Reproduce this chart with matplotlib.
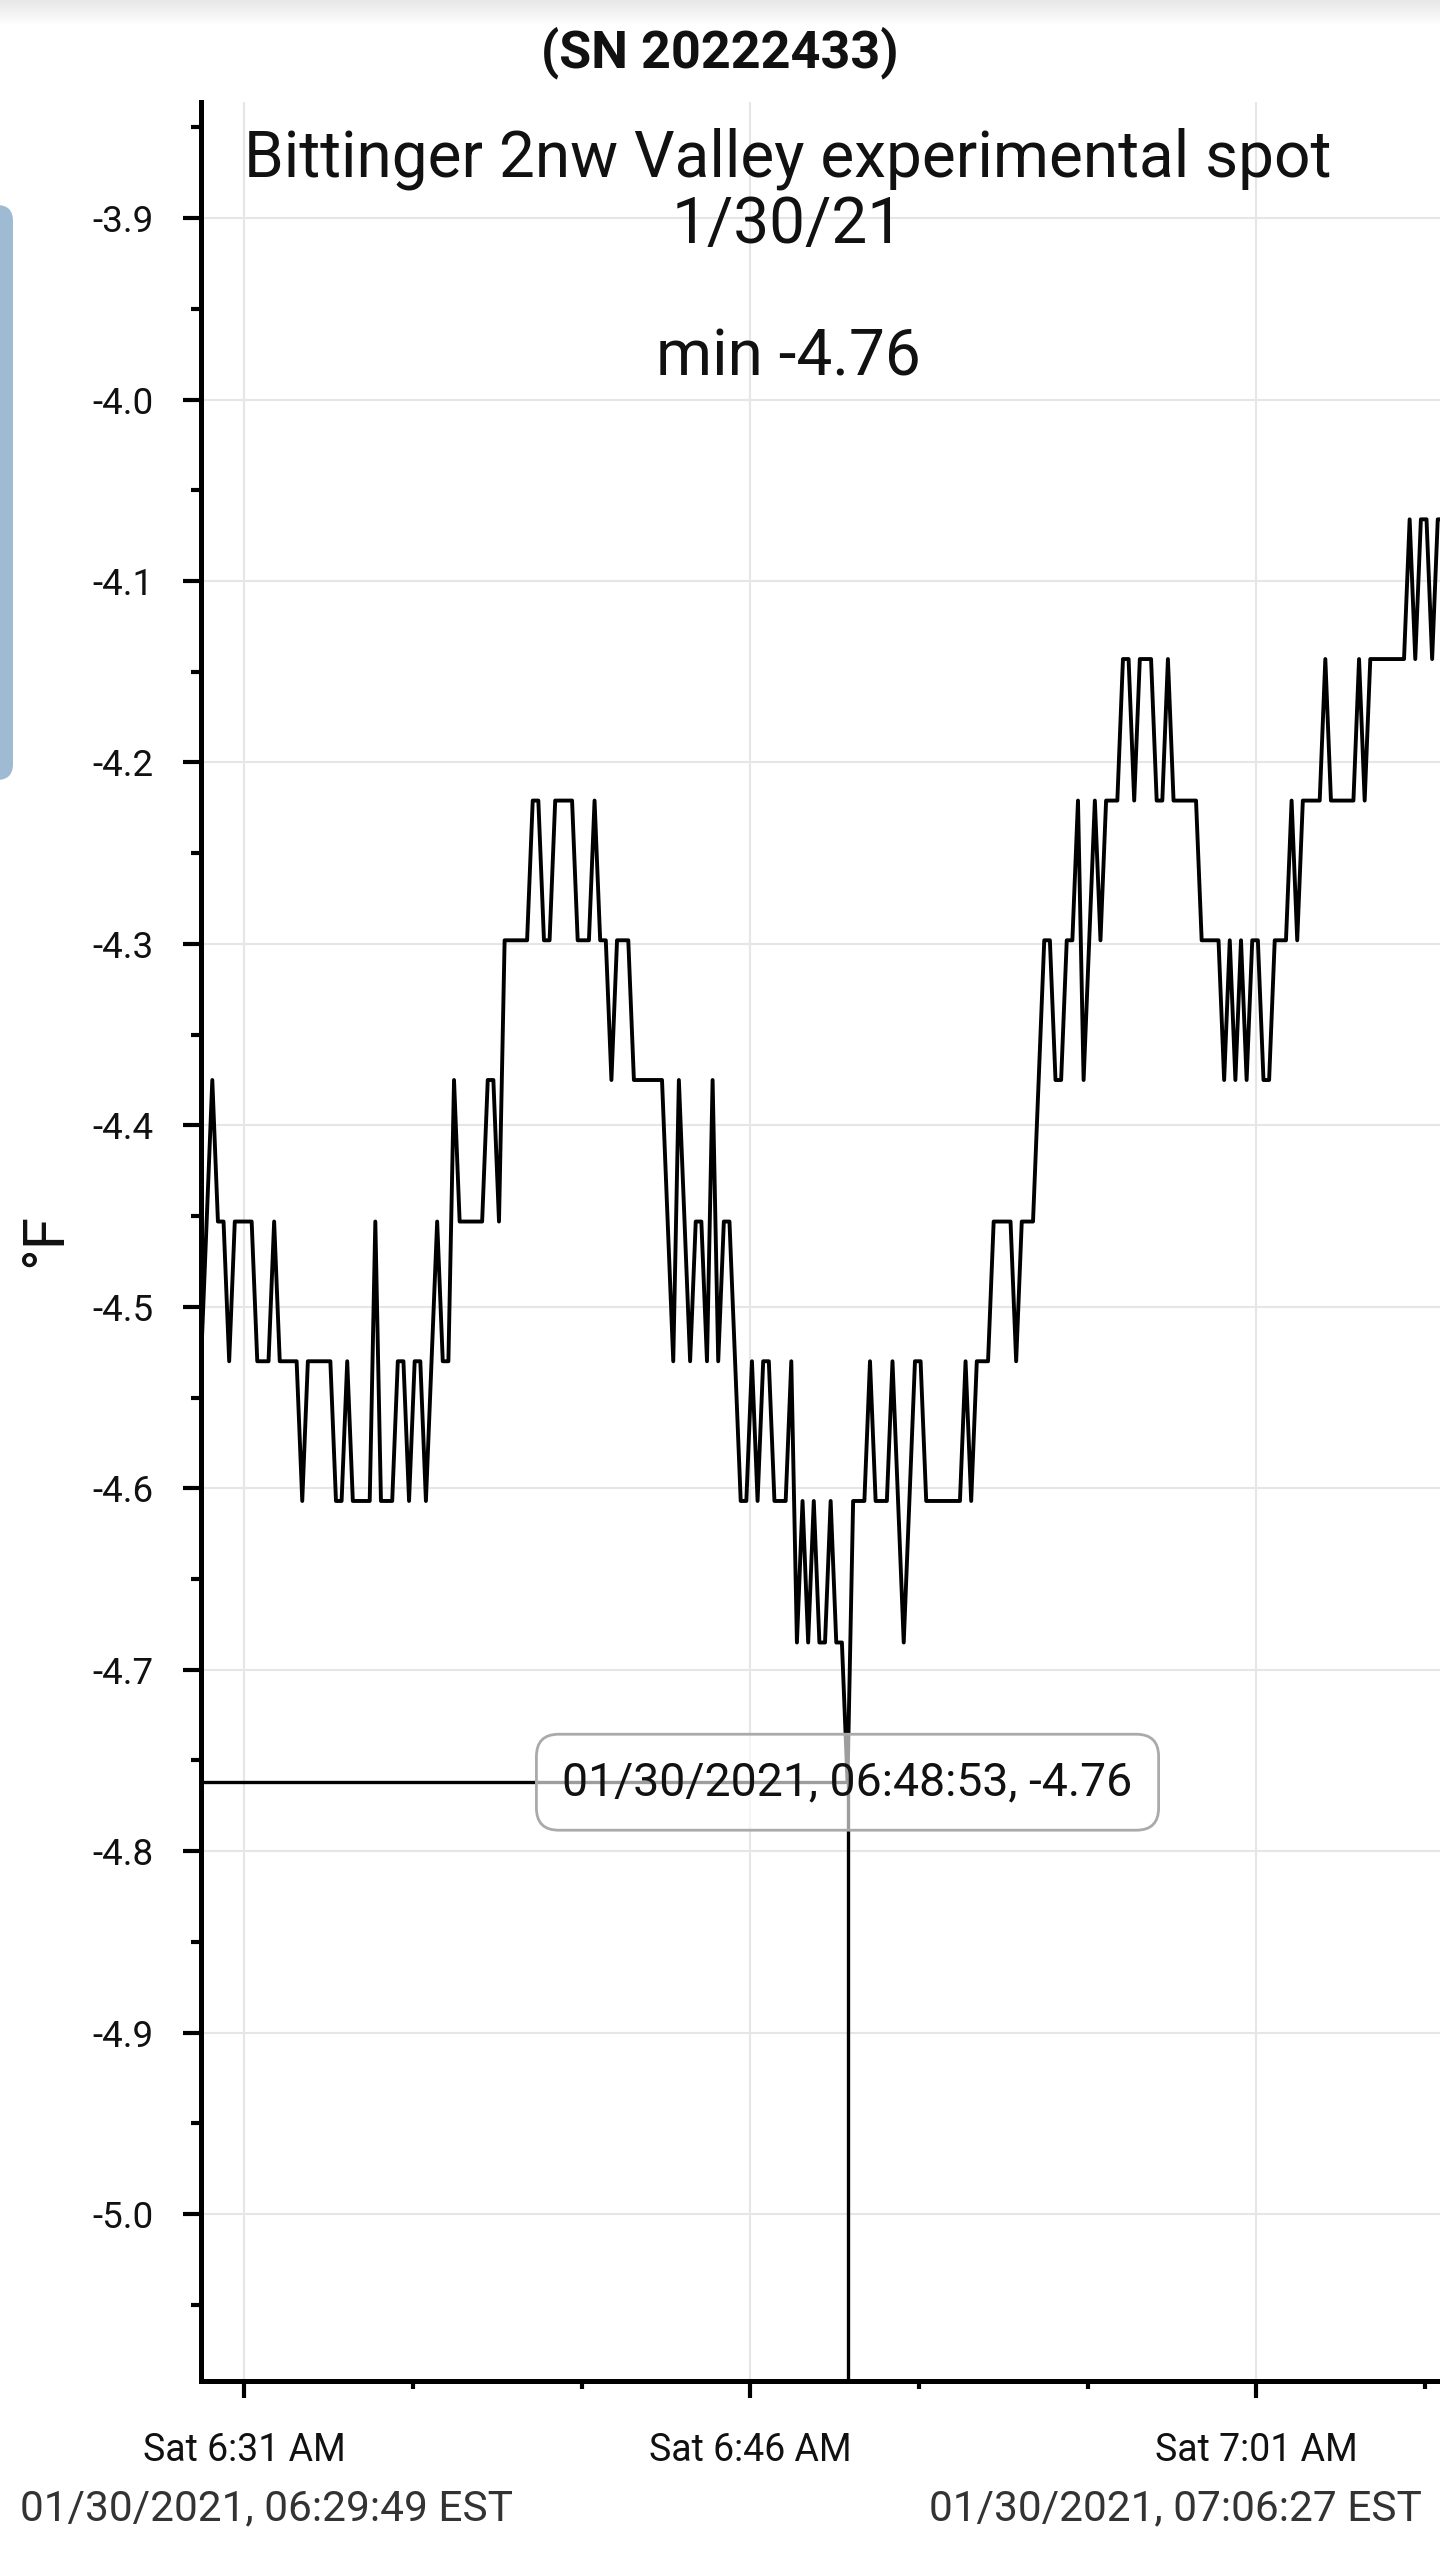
import matplotlib
matplotlib.use('Agg')
import matplotlib.pyplot as plt
import matplotlib.dates as mdates
from matplotlib.patches import FancyBboxPatch
from matplotlib.transforms import IdentityTransform
from matplotlib.ticker import MultipleLocator, FormatStrFormatter, FuncFormatter
from datetime import datetime
import numpy as np
import pandas as pd

plt.rcParams['font.family'] = ['Roboto', 'DejaVu Sans']
plt.rcParams['axes.unicode_minus'] = False

# ------------------------------------------------------------------
# данные
serial = '(SN 20222433)'
site_title = 'Bittinger 2nw Valley experimental spot'
site_date = '1/30/21'
first_reading = '2021-01-30 06:29:43'   # шаг логгера 10 с
view_start = datetime(2021, 1, 30, 6, 29, 42)
view_end = datetime(2021, 1, 30, 7, 6, 27)
range_start_label = '01/30/2021, 06:29:49 EST'
range_end_label = '01/30/2021, 07:06:27 EST'

temps_f = [
    -4.530,
    -4.453, -4.375, -4.453, -4.453, -4.530, -4.453, -4.453, -4.453, -4.453, -4.530,
    -4.530, -4.530, -4.453, -4.530, -4.530, -4.530, -4.530, -4.607, -4.530, -4.530,
    -4.530, -4.530, -4.530, -4.607, -4.607, -4.530, -4.607, -4.607, -4.607, -4.607,
    -4.453, -4.607, -4.607, -4.607, -4.530, -4.530, -4.607, -4.530, -4.530, -4.607,
    -4.530, -4.453, -4.530, -4.530, -4.375, -4.453, -4.453, -4.453, -4.453, -4.453,
    -4.375, -4.375, -4.453, -4.298, -4.298, -4.298, -4.298, -4.298, -4.221, -4.221,
    -4.298, -4.298, -4.221, -4.221, -4.221, -4.221, -4.298, -4.298, -4.298, -4.221,
    -4.298, -4.298, -4.375, -4.298, -4.298, -4.298, -4.375, -4.375, -4.375, -4.375,
    -4.375, -4.375, -4.453, -4.530, -4.375, -4.453, -4.530, -4.453, -4.453, -4.530,
    -4.375, -4.530, -4.453, -4.453, -4.530, -4.607, -4.607, -4.530, -4.607, -4.530,
    -4.530, -4.607, -4.607, -4.607, -4.530, -4.685, -4.607, -4.685, -4.607, -4.685,
    -4.685, -4.607, -4.685, -4.685, -4.762, -4.607, -4.607, -4.607, -4.530, -4.607,
    -4.607, -4.607, -4.530, -4.607, -4.685, -4.607, -4.530, -4.530, -4.607, -4.607,
    -4.607, -4.607, -4.607, -4.607, -4.607, -4.530, -4.607, -4.530, -4.530, -4.530,
    -4.453, -4.453, -4.453, -4.453, -4.530, -4.453, -4.453, -4.453, -4.375, -4.298,
    -4.298, -4.375, -4.375, -4.298, -4.298, -4.221, -4.375, -4.298, -4.221, -4.298,
    -4.221, -4.221, -4.221, -4.143, -4.143, -4.221, -4.143, -4.143, -4.143, -4.221,
    -4.221, -4.143, -4.221, -4.221, -4.221, -4.221, -4.221, -4.298, -4.298, -4.298,
    -4.298, -4.375, -4.298, -4.375, -4.298, -4.375, -4.298, -4.298, -4.375, -4.375,
    -4.298, -4.298, -4.298, -4.221, -4.298, -4.221, -4.221, -4.221, -4.221, -4.143,
    -4.221, -4.221, -4.221, -4.221, -4.221, -4.143, -4.221, -4.143, -4.143, -4.143,
    -4.143, -4.143, -4.143, -4.143, -4.066, -4.143, -4.066, -4.066, -4.143, -4.066,
    -4.066,
]

times = pd.date_range(first_reading, periods=len(temps_f), freq='10s').to_pydatetime()

# ------------------------------------------------------------------
W, H = 1440, 2549
fig = plt.figure(figsize=(W / 100, H / 100), dpi=100)

# серая полоска сверху
gax = fig.add_axes([0, 1 - 26 / H, 1, 26 / H])
shade = np.linspace(0.91, 1.0, 26)[:, None, None] * np.ones((1, 2, 3))
gax.imshow(shade, aspect='auto')
gax.axis('off')

# кусок голубой панели слева
panel = FancyBboxPatch((-30, H - 780), 43, 575, boxstyle='round,pad=0,rounding_size=16',
                       transform=IdentityTransform(), fc='#9fbad3', ec='none')
fig.add_artist(panel)

ax = fig.add_axes([200.5 / W, 1 - 2381 / H, 1 - 200.5 / W, (2381 - 102) / H])
ax.plot(times, temps_f, color='black', lw=2.8, zorder=3)

ax.set_xlim(view_start, view_end)
ax.set_ylim(-5.092, -3.836)

ax.yaxis.set_major_locator(MultipleLocator(0.1))
ax.yaxis.set_minor_locator(MultipleLocator(0.05))
ax.yaxis.set_major_formatter(FormatStrFormatter('%.1f'))

def time_label(x, pos):
    d = mdates.num2date(x)
    return '%s %d:%s' % (d.strftime('%a'), d.hour % 12 or 12, d.strftime('%M %p'))

ax.xaxis.set_major_locator(mdates.MinuteLocator(byminute=[1, 16, 31, 46]))
ax.xaxis.set_minor_locator(mdates.MinuteLocator(byminute=range(1, 60, 5)))
ax.xaxis.set_major_formatter(FuncFormatter(time_label))

ax.grid(True, which='major', color='#e6e6e6', lw=1.5)
ax.set_axisbelow(True)
for s in ['top', 'right']:
    ax.spines[s].set_visible(False)
for s in ['left', 'bottom']:
    ax.spines[s].set_linewidth(3.6)

ax.tick_params(axis='y', which='major', length=13, width=3, pad=21, labelsize=26.5, labelcolor='#111111')
ax.tick_params(axis='y', which='minor', length=7, width=3)
ax.tick_params(axis='x', which='major', length=12, width=3, pad=24.5, labelsize=27, labelcolor='#111111')
ax.tick_params(axis='x', which='minor', length=5.5, width=3)

# перекрестие на минимуме + подсказка
i_min = int(np.argmin(temps_f))
t_min = times[i_min]
v_min = temps_f[i_min]
y_lo = ax.get_ylim()[0]
ax.plot([view_start, t_min], [v_min, v_min], color='black', lw=2.4, zorder=4)
ax.plot([t_min, t_min], [v_min, y_lo], color='black', lw=2.4, zorder=4)
ax.text(t_min, v_min, '%s, %.2f' % (t_min.strftime('%m/%d/%Y, %H:%M:%S'), v_min),
        ha='center', va='center', fontsize=33.4, color='#111111', zorder=6,
        bbox=dict(boxstyle='round,pad=0.56,rounding_size=0.48', fc=(1, 1, 1, 0.62),
                  ec='#aaaaaa', lw=2))

# подписи
fig.text(0.5, 1 - 67 / H, serial, ha='center', va='baseline', fontsize=37.5,
         fontweight='bold', color='#111111')
fig.text(788 / W, 1 - 177 / H, site_title, ha='center', va='baseline', fontsize=46, color='#111111')
fig.text(788 / W, 1 - 243 / H, site_date, ha='center', va='baseline', fontsize=46, color='#111111')
fig.text(788 / W, 1 - 375 / H, 'min %.2f' % v_min, ha='center', va='baseline', fontsize=46,
         color='#111111')
fig.text(46 / W, 1 - 1240 / H, '°F', rotation=90, ha='center', va='center', fontsize=42,
         color='#111111')
fig.text(19.5 / W, 1 - 2520 / H, range_start_label, ha='left', va='baseline', fontsize=30.5,
         color='#333333')
fig.text(1422 / W, 1 - 2520 / H, range_end_label, ha='right', va='baseline', fontsize=30.5,
         color='#333333')

fig.savefig('out.png', dpi=100)
